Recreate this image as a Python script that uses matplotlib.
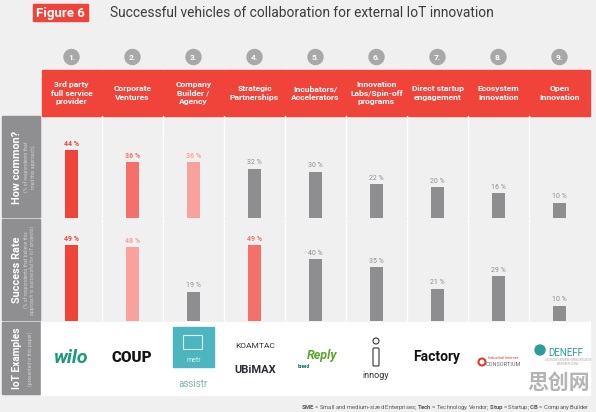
import matplotlib
matplotlib.use("Agg")
import matplotlib.pyplot as plt
from matplotlib.patches import Rectangle, Circle, FancyBboxPatch

plt.rcParams['font.family'] = ['Roboto', 'DejaVu Sans']
plt.rcParams['mathtext.fontset'] = 'custom'
plt.rcParams['mathtext.bf'] = 'Roboto:bold'
plt.rcParams['mathtext.rm'] = 'Roboto'

vehicles = ['3rd party\nfull service\nprovider', 'Corporate\nVentures', 'Company\nBuilder /\nAgency',
            'Strategic\nPartnerships', 'Incubators/\nAccelerators', 'Innovation\nLabs/Spin-off\nprograms',
            'Direct startup\nengagement', 'Ecosystem\nInnovation', 'Open\nInnovation']
how_common = [44, 36, 36, 32, 30, 22, 20, 16, 10]
success_rate = [49, 48, 19, 49, 40, 35, 21, 29, 10]

RED = '#f0443a'
MID = '#f5706a'
PINK = '#f9a19d'
GREY = '#8e8e91'
common_colors = [RED, MID, PINK, GREY, GREY, GREY, GREY, GREY, GREY]
success_colors = [RED, PINK, GREY, MID, GREY, GREY, GREY, GREY, GREY]

W, H = 596, 412
fig = plt.figure(figsize=(W / 100, H / 100), dpi=100, facecolor='#f0f0f0')

# overlay in pixel coordinates for layout elements
ov = fig.add_axes([0, 0, 1, 1], zorder=0)
ov.set_xlim(0, W)
ov.set_ylim(H, 0)
ov.axis('off')

x0, colw = 41, 61
ov.add_patch(Rectangle((33, 4), 55, 17, color=RED))
ov.text(60.5, 13, 'Figure 6', color='white', fontsize=9.5, fontweight='bold', ha='center', va='center')
ov.text(110, 13, 'Successful vehicles of collaboration for external IoT innovation',
        color='#3c3c3c', fontsize=9.9, ha='left', va='center')

for i, name in enumerate(vehicles):
    cx = x0 + colw * (i + 0.5)
    ov.add_patch(Circle((cx, 57), 7.5, color='#a8a8a8'))
    ov.text(cx, 57.5, f'{i + 1}.', color='white', fontsize=6, fontweight='bold', ha='center', va='center')
    ov.add_patch(Rectangle((x0 + colw * i + 0.5, 70), colw - 1, 46, color=RED))
    ov.text(cx, 93, name, color='white', fontsize=6.1, fontweight='bold', ha='center', va='center',
            linespacing=1.2)

# left label boxes
labels = [('How common?', '(% of respondents that\ntried this approach)', 116, 218, 7.8),
          ('Success Rate', '(% of respondents that believe this\napproach is successful for IoT projects)', 219, 321, 7.8),
          ('IoT Examples', '(presented in this paper)', 322, 395, 7.3)]
for title, sub, y1, y2, fs in labels:
    ov.add_patch(Rectangle((2, y1), 38, y2 - y1 - 1, color='#8f8f91'))
    ov.text(17, (y1 + y2) / 2, title, color='white', fontsize=fs, fontweight='bold', rotation=90,
            ha='center', va='center')
    ov.text(30, (y1 + y2) / 2, sub, color='#d0d0d2', fontsize=3.6, rotation=90,
            ha='center', va='center', linespacing=1.2)

# IoT examples row
ov.add_patch(Rectangle((x0, 322), colw * 9, 73, color='white'))
ov.text(71, 358, 'wilo', color='#1a9a78', fontsize=14, fontweight='bold', style='italic', ha='center', va='center')
ov.text(132, 358, 'COUP', color='#151515', fontsize=11, fontweight='heavy', ha='center', va='center')
ov.add_patch(Rectangle((173, 327), 41, 40, color='#4db5c0'))
ov.text(193.5, 361, 'metr', color='#d8f0f2', fontsize=5, ha='center', va='center')
ov.add_patch(FancyBboxPatch((184, 336), 18, 13, boxstyle='round,pad=0.5', fill=False, ec='#d8f0f2', lw=0.8))
ov.text(193, 384, 'assistr', color='#7fb3a8', fontsize=7, ha='center', va='center')
ov.text(255, 346, 'KOAMTAC', color='#333333', fontsize=6, ha='center', va='center')
ov.text(255, 370, 'UBiMAX', color='#2b2b3a', fontsize=8, fontweight='bold', ha='center', va='center')
ov.text(322, 355, 'Reply', color='#5aa52a', fontsize=9, fontweight='bold', style='italic', ha='center', va='center')
ov.text(304, 366, 'breed', color='#1a6a6a', fontsize=3.5, fontweight='bold', ha='center', va='center')
ov.add_patch(Circle((376, 341), 3, fill=False, ec='#333333', lw=0.8))
ov.add_patch(FancyBboxPatch((374, 349), 4, 16, boxstyle='round,pad=1', fill=False, ec='#333333', lw=0.8))
ov.text(376, 375, 'innogy', color='#333333', fontsize=6.5, ha='center', va='center')
ov.text(437, 357, 'Factory', color='#111111', fontsize=10, fontweight='bold', ha='center', va='center')
ov.add_patch(Circle((482, 362), 3.5, fill=False, ec='#e03a30', lw=1.5))
ov.text(503, 358, 'Industrial Internet', color='#e03a30', fontsize=2.8, ha='center', va='center')
ov.text(503, 364, 'CONSORTIUM', color='#666666', fontsize=4, ha='center', va='center')
ov.add_patch(Circle((540, 350), 5, color='#2a9d9a'))
ov.text(566, 353, 'DENEFF', color='#2a9d9a', fontsize=7, ha='center', va='center')
ov.text(568, 362, 'DEUTSCHE UNTERNEHMENSINITIATIVE\nENERGIEEFFIZIENZ', color='#a0a0a0', fontsize=1.8,
        ha='center', va='center')

ov.text(559, 382, '思创网', color='#b4b4b4', fontsize=15, fontweight='bold', ha='center', va='center',
        family=['Noto Sans CJK SC', 'DejaVu Sans'])

footer = (r'$\mathbf{SME}$ = Small and medium-sized Enterprises; $\mathbf{Tech}$ = Technology Vendor; '
          r'$\mathbf{Stup}$ = Startup; $\mathbf{CB}$ = Company Builder')
ov.text(590, 407, footer, color='#555555', fontsize=4.2, ha='right', va='center')


def panel(y_top, y_bot, values, colors):
    ax = fig.add_axes([x0 / W, 1 - y_bot / H, colw * 9 / W, (y_bot - y_top) / H], zorder=1)
    ax.set_facecolor('#f3f3f3')
    ax.bar(range(len(values)), values, width=0.21, color=colors)
    for i, (v, c) in enumerate(zip(values, colors)):
        ax.text(i, v + 1.5, f'{v} %', color=c, fontsize=5, ha='center', va='bottom',
                fontweight='bold' if c != GREY else 'normal')
    for i in range(1, len(values)):
        ax.axvline(i - 0.5, color='white', lw=1)
    ax.set_xlim(-0.5, len(values) - 0.5)
    ax.set_ylim(0, (y_bot - y_top) / 1.545)
    ax.axis('off')
    return ax


panel(116, 218, how_common, common_colors)
panel(219, 321, success_rate, success_colors)

fig.savefig('out.png', dpi=100, facecolor=fig.get_facecolor())
